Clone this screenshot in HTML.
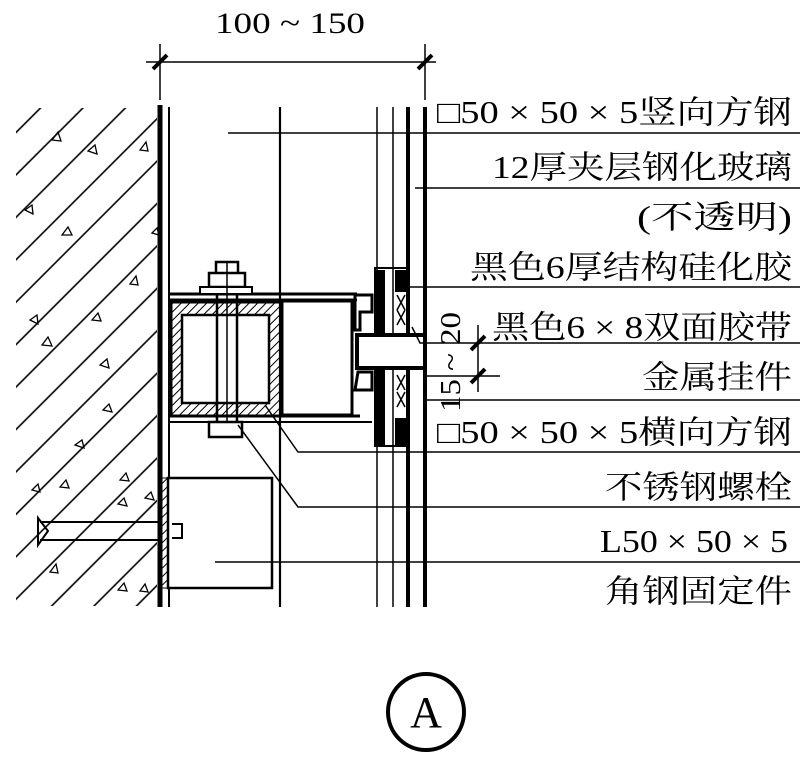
<!DOCTYPE html>
<html><head><meta charset="utf-8"><style>
html,body{margin:0;padding:0;background:#fff;}
svg{display:block}
text{font-family:"Liberation Serif","Noto Serif CJK SC","Noto Sans CJK SC",serif;fill:#000}
</style></head><body>
<svg width="803" height="761" viewBox="0 0 803 761" xmlns="http://www.w3.org/2000/svg">
<defs>
<pattern id="h" patternUnits="userSpaceOnUse" width="30" height="30" patternTransform="rotate(45)">
<line x1="15" y1="0" x2="15" y2="30" stroke="#000" stroke-width="1.6"/>
</pattern>
<pattern id="sh" patternUnits="userSpaceOnUse" width="6" height="6" patternTransform="rotate(45)">
<line x1="0" y1="0" x2="0" y2="6" stroke="#000" stroke-width="2"/>
</pattern>
</defs>
<g stroke="#000" fill="none">
<rect x="16" y="108" width="141" height="498" fill="url(#h)" stroke="none"/>
<g fill="none" stroke-width="1.3">
<path d="M52 140l6-8 3 9z M88 151l7-6 2 9z M140 150l6-8 2 9z M25 210l7-5 1 9z M62 235l6-8 4 8z M130 284l6-8 2 9z M30 320l7-5 1 9z M92 320l6-7 3 8z M42 345l6-8 4 9z M100 365l7-6 2 9z M103 410l6-6 3 8z M75 445l7-5 2 8z M60 487l6-7 3 8z M120 480l6-7 3 8z M32 490l6-6 2 8z M118 504l6-6 3 8z M145 498l6-6 3 8z M50 572l6-8 2 9z M118 590l6-7 3 8z M140 591l5-7 3 8z M152 233l5-5 2 7z"/>
</g>
<line x1="146" y1="62" x2="436" y2="62" stroke-width="1.5"/>
<line x1="160" y1="44" x2="160" y2="100" stroke-width="1.5"/>
<line x1="425" y1="44" x2="425" y2="100" stroke-width="1.5"/>
<line x1="153" y1="69" x2="167" y2="55" stroke-width="4"/>
<line x1="418" y1="69" x2="432" y2="55" stroke-width="4"/>
<line x1="160" y1="105" x2="160" y2="607" stroke-width="5"/>
<line x1="169" y1="107" x2="169" y2="607" stroke-width="2"/>
<line x1="280" y1="107" x2="280" y2="607" stroke-width="2.2"/>
<line x1="377" y1="107" x2="377" y2="607" stroke-width="1.5"/>
<line x1="393" y1="107" x2="393" y2="607" stroke-width="1.5"/>
<line x1="408" y1="107" x2="408" y2="607" stroke-width="4"/>
<line x1="425" y1="107" x2="425" y2="607" stroke-width="4"/>
<line x1="169" y1="294" x2="357" y2="294" stroke-width="3"/>
<line x1="169" y1="300" x2="357" y2="300" stroke-width="3"/>
<line x1="169" y1="416" x2="360" y2="416" stroke-width="3"/>
<line x1="169" y1="422" x2="372" y2="422" stroke-width="2"/>
<rect x="171" y="302" width="110" height="114" fill="url(#sh)" stroke-width="3"/>
<rect x="182" y="315" width="87" height="88" fill="#fff" stroke-width="2.5"/>
<rect x="282" y="301" width="70" height="114" fill="#fff" stroke-width="3"/>
<line x1="217" y1="262" x2="217" y2="438" stroke-width="2.5"/>
<line x1="237" y1="262" x2="237" y2="438" stroke-width="2.5"/>
<rect x="216" y="262" width="22" height="12" fill="#fff" stroke-width="2.5"/>
<rect x="209" y="273" width="36" height="14" fill="#fff" stroke-width="2.5"/>
<rect x="200" y="287" width="52" height="7" fill="#fff" stroke-width="2"/>
<line x1="227" y1="262" x2="227" y2="438" stroke-width="1.5"/>
<rect x="209" y="422" width="33" height="15" fill="#fff" stroke-width="2.5"/>
<path d="M357 335H425V368H357Z" fill="#fff" stroke-width="4"/>
<path d="M355 295H372V312H360V330H355Z" fill="none" stroke-width="3"/>
<path d="M358 372H372V390H355Z" fill="none" stroke-width="3"/>
<rect x="375" y="270" width="10" height="65" fill="#000" stroke="none"/>
<rect x="375" y="368" width="10" height="77" fill="#000" stroke="none"/>
<rect x="395" y="270" width="13" height="22" fill="#000" stroke="none"/>
<rect x="395" y="418" width="13" height="27" fill="#000" stroke="none"/>
<rect x="375" y="268" width="33" height="68" stroke-width="2"/>
<rect x="375" y="368" width="33" height="78" stroke-width="2"/>
<path d="M397 295l8 15m0-15l-8 15M397 310l8 15m0-15l-8 15 M397 375l8 15m0-15l-8 15M397 392l8 15m0-15l-8 15" stroke-width="1.5"/>
<rect x="168" y="478" width="104" height="110" fill="#fff" stroke-width="2.5"/>
<rect x="162" y="478" width="6" height="110" fill="url(#sh)" stroke-width="1"/>
<path d="M40 522H162M40 540H162M38 518V545L48 531Z M172 524h10v14h-10" stroke-width="2"/>
<line x1="228" y1="133" x2="800" y2="133" stroke-width="1.5"/>
<line x1="415" y1="188" x2="800" y2="188" stroke-width="1.5"/>
<line x1="408" y1="287" x2="800" y2="287" stroke-width="1.5"/>
<path d="M412 327L420 343H800" stroke-width="1.5"/>
<line x1="425" y1="376" x2="500" y2="376" stroke-width="1.5"/>
<line x1="425" y1="400" x2="800" y2="400" stroke-width="1.5"/>
<path d="M265 405L298 452H800" stroke-width="1.5"/>
<path d="M238 425L298 507H800" stroke-width="1.5"/>
<line x1="215" y1="562" x2="800" y2="562" stroke-width="1.5"/>
<line x1="478" y1="325" x2="478" y2="392" stroke-width="1.5"/>
<line x1="471" y1="350" x2="485" y2="336" stroke-width="4"/>
<line x1="471" y1="383" x2="485" y2="369" stroke-width="4"/>
<circle cx="426" cy="712" r="38" stroke-width="4"/>
</g>
<text x="290" y="33" font-size="30" text-anchor="middle" textLength="150" lengthAdjust="spacingAndGlyphs">100 ~ 150</text>
<g font-size="32">
<text x="437" y="123" textLength="355" lengthAdjust="spacingAndGlyphs">□50 × 50 × 5竖向方钢</text>
<text x="492" y="178" textLength="300" lengthAdjust="spacingAndGlyphs">12厚夹层钢化玻璃</text>
<text x="637" y="228" textLength="155" lengthAdjust="spacingAndGlyphs">(不透明)</text>
<text x="470" y="278" textLength="322" lengthAdjust="spacingAndGlyphs">黑色6厚结构硅化胶</text>
<text x="492" y="338" textLength="300" lengthAdjust="spacingAndGlyphs">黑色6 × 8双面胶带</text>
<text x="642" y="388" textLength="150" lengthAdjust="spacingAndGlyphs">金属挂件</text>
<text x="437" y="443" textLength="355" lengthAdjust="spacingAndGlyphs">□50 × 50 × 5横向方钢</text>
<text x="605" y="498" textLength="187" lengthAdjust="spacingAndGlyphs">不锈钢螺栓</text>
<text x="600" y="552" textLength="188" lengthAdjust="spacingAndGlyphs">L50 × 50 × 5</text>
<text x="605" y="602" textLength="187" lengthAdjust="spacingAndGlyphs">角钢固定件</text>
</g>
<text x="0" y="0" font-size="28" transform="translate(460,412) rotate(-90)" textLength="100" lengthAdjust="spacingAndGlyphs">15 ~ 20</text>
<text x="426" y="727" font-size="44" text-anchor="middle" font-family="Liberation Sans, sans-serif">A</text>
</svg>
</body></html>
